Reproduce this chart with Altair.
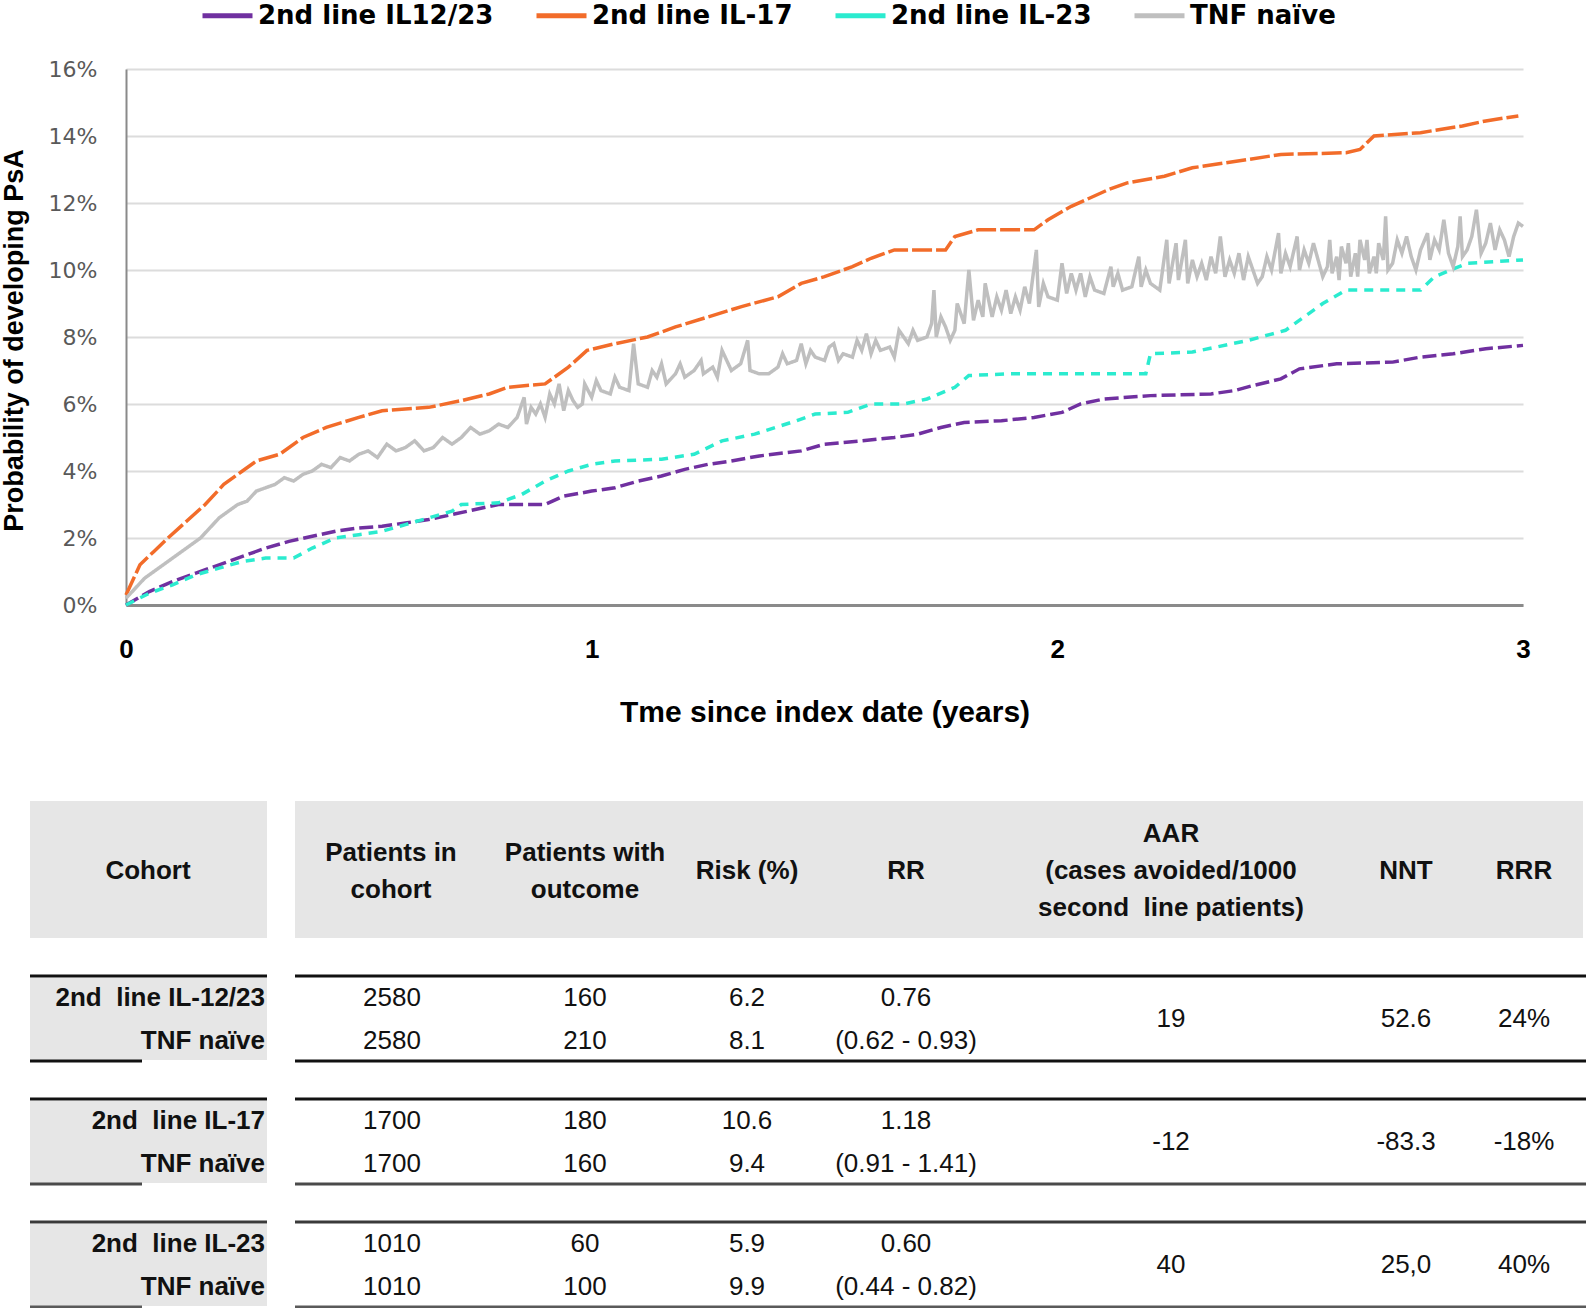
import altair as alt
import pandas as pd

# ---------------- data ----------------
series_names = ["2nd line IL12/23", "2nd line IL-17", "2nd line IL-23", "TNF naïve"]
series_colors = ["#7030A0", "#F26C2A", "#2BEBCF", "#BFBFBF"]
series_dashes = [[14, 5], [20, 4], [9, 7], [1, 0]]
series_widths = [3.5, 3.5, 3.5, 4.0]

il1223_points = [(0.00, 0.0), (0.05, 0.4), (0.10, 0.7), (0.15, 0.95), (0.20, 1.2), (0.25, 1.45),
                 (0.30, 1.7), (0.35, 1.9), (0.40, 2.05), (0.45, 2.2), (0.50, 2.3), (0.55, 2.35),
                 (0.60, 2.45), (0.65, 2.55), (0.70, 2.7), (0.75, 2.85), (0.80, 3.0), (0.90, 3.0),
                 (0.94, 3.25), (1.00, 3.4), (1.05, 3.5), (1.10, 3.7), (1.15, 3.85), (1.20, 4.05),
                 (1.25, 4.2), (1.30, 4.3), (1.36, 4.45), (1.45, 4.6), (1.50, 4.8), (1.58, 4.9),
                 (1.65, 5.0), (1.70, 5.1), (1.75, 5.3), (1.80, 5.45), (1.88, 5.5), (1.95, 5.6),
                 (2.01, 5.75), (2.05, 6.0), (2.10, 6.15), (2.20, 6.25), (2.33, 6.3), (2.38, 6.4),
                 (2.42, 6.55), (2.48, 6.75), (2.52, 7.05), (2.60, 7.2), (2.72, 7.25), (2.78, 7.4),
                 (2.85, 7.5), (2.92, 7.65), (3.00, 7.75)]

il17_points = [(0.00, 0.3), (0.03, 1.2), (0.06, 1.6), (0.09, 2.0), (0.13, 2.5), (0.17, 3.0),
               (0.21, 3.6), (0.25, 4.0), (0.28, 4.3), (0.33, 4.5), (0.38, 5.0), (0.43, 5.3),
               (0.50, 5.6), (0.55, 5.8), (0.65, 5.9), (0.72, 6.1), (0.78, 6.3), (0.82, 6.5),
               (0.90, 6.6), (0.95, 7.1), (0.99, 7.6), (1.05, 7.8), (1.12, 8.0), (1.18, 8.3),
               (1.25, 8.6), (1.32, 8.9), (1.40, 9.2), (1.45, 9.6), (1.50, 9.8), (1.56, 10.1),
               (1.60, 10.35), (1.65, 10.6), (1.76, 10.6), (1.78, 11.0), (1.83, 11.2), (1.95, 11.2),
               (1.98, 11.5), (2.03, 11.9), (2.11, 12.4), (2.15, 12.6), (2.23, 12.8), (2.29, 13.05),
               (2.41, 13.3), (2.48, 13.45), (2.62, 13.5), (2.65, 13.6), (2.68, 14.0), (2.78, 14.1),
               (2.87, 14.3), (2.92, 14.45), (2.99, 14.6)]

il23_points = [(0.00, 0.0), (0.05, 0.35), (0.10, 0.6), (0.15, 0.9), (0.20, 1.1), (0.25, 1.3),
               (0.30, 1.4), (0.36, 1.4), (0.40, 1.7), (0.45, 2.0), (0.50, 2.1), (0.55, 2.2),
               (0.60, 2.4), (0.65, 2.6), (0.70, 2.8), (0.72, 3.0), (0.80, 3.05), (0.85, 3.3),
               (0.90, 3.7), (0.95, 4.0), (1.00, 4.2), (1.05, 4.3), (1.15, 4.35), (1.22, 4.5),
               (1.28, 4.9), (1.35, 5.1), (1.44, 5.5), (1.48, 5.7), (1.55, 5.75), (1.60, 6.0),
               (1.67, 6.0), (1.72, 6.15), (1.78, 6.5), (1.81, 6.85), (1.90, 6.9), (2.19, 6.9),
               (2.20, 7.5), (2.29, 7.55), (2.41, 7.9), (2.49, 8.2), (2.53, 8.6), (2.57, 9.0),
               (2.62, 9.4), (2.78, 9.4), (2.81, 9.8), (2.88, 10.2), (3.00, 10.3)]

tnf_points = [(0.00, 0.2), (0.02, 0.5), (0.04, 0.8), (0.06, 1.0), (0.08, 1.2), (0.10, 1.4), (0.12, 1.6),
              (0.14, 1.8), (0.16, 2.0), (0.18, 2.3), (0.20, 2.6), (0.22, 2.8), (0.24, 3.0), (0.26, 3.1),
              (0.28, 3.4), (0.30, 3.5), (0.32, 3.6), (0.34, 3.8), (0.36, 3.7), (0.38, 3.9), (0.40, 4.0),
              (0.42, 4.2), (0.44, 4.1), (0.46, 4.4), (0.48, 4.3), (0.50, 4.5), (0.52, 4.6), (0.54, 4.4),
              (0.56, 4.8), (0.58, 4.6), (0.60, 4.7), (0.62, 4.9), (0.64, 4.6), (0.66, 4.7), (0.68, 5.0),
              (0.70, 4.8), (0.72, 5.0), (0.74, 5.3), (0.76, 5.1), (0.78, 5.2), (0.80, 5.4), (0.82, 5.3),
              (0.84, 5.6), (0.855, 6.2), (0.86, 5.4), (0.87, 5.9), (0.88, 5.7), (0.89, 6.0), (0.90, 5.6),
              (0.91, 6.3), (0.92, 6.0), (0.93, 6.6), (0.94, 5.8), (0.95, 6.4), (0.96, 6.1), (0.97, 5.9),
              (0.98, 6.0), (0.985, 6.6), (1.00, 6.2), (1.01, 6.7), (1.02, 6.4), (1.04, 6.3), (1.05, 6.8),
              (1.06, 6.5), (1.08, 6.4), (1.09, 7.8), (1.10, 6.6), (1.12, 6.5), (1.13, 7.0), (1.14, 6.8),
              (1.15, 7.2), (1.16, 6.6), (1.18, 6.9), (1.19, 7.2), (1.20, 6.8), (1.22, 7.0), (1.235, 7.3),
              (1.24, 6.9), (1.26, 7.1), (1.27, 6.8), (1.28, 7.6), (1.30, 7.0), (1.32, 7.2), (1.335, 7.9),
              (1.34, 7.0), (1.36, 6.9), (1.38, 6.9), (1.40, 7.1), (1.41, 7.5), (1.42, 7.2), (1.44, 7.3),
              (1.45, 7.8), (1.46, 7.2), (1.47, 7.6), (1.48, 7.4), (1.50, 7.3), (1.51, 7.7), (1.52, 7.8),
              (1.53, 7.3), (1.54, 7.5), (1.56, 7.4), (1.57, 7.9), (1.58, 7.6), (1.59, 8.1), (1.60, 7.5),
              (1.61, 7.9), (1.62, 7.6), (1.64, 7.7), (1.65, 7.4), (1.66, 8.2), (1.68, 7.8), (1.69, 8.2),
              (1.70, 7.9), (1.72, 8.0), (1.73, 8.4), (1.735, 9.4), (1.74, 8.0), (1.75, 8.6), (1.76, 8.3),
              (1.77, 7.9), (1.78, 8.2), (1.785, 9.0), (1.80, 8.4), (1.81, 10.0), (1.82, 8.5), (1.83, 9.1),
              (1.84, 8.6), (1.845, 9.6), (1.86, 8.6), (1.87, 9.2), (1.88, 8.8), (1.89, 9.4), (1.90, 8.7),
              (1.91, 9.2), (1.92, 8.8), (1.93, 9.5), (1.94, 9.0), (1.955, 10.6), (1.96, 8.9), (1.97, 9.6),
              (1.98, 9.2), (2.00, 9.1), (2.01, 10.2), (2.02, 9.3), (2.03, 9.9), (2.04, 9.4), (2.05, 9.9),
              (2.06, 9.2), (2.07, 9.8), (2.08, 9.4), (2.10, 9.3), (2.115, 10.1), (2.12, 9.5), (2.13, 9.9),
              (2.14, 9.4), (2.16, 9.5), (2.175, 10.4), (2.18, 9.5), (2.19, 10.0), (2.20, 9.6), (2.22, 9.4),
              (2.235, 10.9), (2.24, 9.6), (2.255, 10.8), (2.26, 9.7), (2.275, 10.9), (2.28, 9.6),
              (2.29, 10.3), (2.30, 9.8), (2.31, 10.2), (2.32, 9.7), (2.33, 10.4), (2.34, 9.9),
              (2.35, 11.0), (2.36, 9.8), (2.37, 10.3), (2.38, 9.9), (2.39, 10.5), (2.40, 9.7),
              (2.41, 10.4), (2.42, 10.0), (2.43, 9.6), (2.44, 9.8), (2.45, 10.4), (2.46, 10.0),
              (2.475, 11.1), (2.48, 9.9), (2.49, 10.5), (2.50, 10.1), (2.515, 11.0), (2.52, 10.0),
              (2.53, 10.6), (2.54, 10.2), (2.55, 10.8), (2.56, 10.3), (2.57, 9.8), (2.58, 10.1),
              (2.585, 10.9), (2.59, 9.9), (2.60, 10.4), (2.605, 9.7), (2.61, 10.7), (2.62, 10.2),
              (2.625, 10.8), (2.63, 9.8), (2.64, 10.5), (2.645, 9.8), (2.65, 10.9), (2.66, 10.3),
              (2.665, 10.9), (2.67, 9.9), (2.68, 10.4), (2.685, 9.9), (2.69, 10.8), (2.70, 10.3),
              (2.705, 11.6), (2.71, 10.0), (2.72, 10.2), (2.73, 10.9), (2.74, 10.5), (2.75, 11.0),
              (2.76, 10.4), (2.77, 10.0), (2.78, 10.6), (2.795, 11.1), (2.80, 10.3), (2.81, 10.9),
              (2.82, 10.6), (2.83, 11.5), (2.84, 10.5), (2.85, 10.1), (2.86, 10.7), (2.865, 11.6),
              (2.87, 10.4), (2.88, 10.6), (2.89, 11.0), (2.90, 11.8), (2.91, 10.5), (2.92, 10.8),
              (2.93, 11.4), (2.94, 10.6), (2.95, 11.2), (2.96, 10.9), (2.97, 10.4), (2.98, 11.0),
              (2.99, 11.4), (3.00, 11.3)]

y_ticks = [0, 2, 4, 6, 8, 10, 12, 14, 16]
x_ticks = [0, 1, 2, 3]

# table data (double spaces kept with a no-break space)
header_texts = ["Cohort", "Patients in\ncohort", "Patients with\noutcome", "Risk (%)", "RR",
                "AAR\n(cases avoided/1000\nsecond \u00a0line patients)", "NNT", "RRR"]
cohort_labels = [["2nd \u00a0line IL-12/23", "TNF naïve"],
                 ["2nd \u00a0line IL-17", "TNF naïve"],
                 ["2nd \u00a0line IL-23", "TNF naïve"]]
patients_in_cohort = [["2580", "2580"], ["1700", "1700"], ["1010", "1010"]]
patients_with_outcome = [["160", "210"], ["180", "160"], ["60", "100"]]
risk_pct = [["6.2", "8.1"], ["10.6", "9.4"], ["5.9", "9.9"]]
rr = ["0.76", "1.18", "0.60"]
rr_ci = ["(0.62 - 0.93)", "(0.91 - 1.41)", "(0.44 - 0.82)"]
aar = ["19", "-12", "40"]
nnt = ["52.6", "-83.3", "25,0"]
rrr = ["24%", "-18%", "40%"]

# ---------------- layout (page pixels) ----------------
PL, PT = 126, 69           # plot origin on the page
W, H = 1397, 536
PAGE_W, PAGE_H = 1586, 1308

SANS = "Liberation Sans"
WIDE = "DejaVu Sans"
TFS = 26                   # table font size
HEADER_LH = 37

header_x = [148, 391, 585, 747, 906, 1171, 1406, 1524]
header_center_y = 871
value_cols_x = [392, 585, 747, 906]
merged_cols_x = [1171, 1406, 1524]
cohort_right = 265
group_top = [976, 1099, 1222]
row_off = [22, 65]
mid_off = 43
bottom_off = 85

# ---------------- line chart ----------------
rows = []
for name, pts in zip(series_names, [il1223_points, il17_points, il23_points, tnf_points]):
    for i, (t, v) in enumerate(sorted(pts)):
        rows.append({"series": name, "t": t, "v": v, "order": i})
line_df = pd.DataFrame(rows)

lines = alt.Chart(line_df).mark_line().encode(
    x=alt.X("t:Q", scale=alt.Scale(domain=[0, 3], nice=False, zero=False),
            axis=alt.Axis(values=x_ticks, format="d", title="Tme since index date (years)",
                          labelFont=SANS, labelFontSize=26, labelFontWeight="bold", labelColor="black",
                          labelFlush=False, labelPadding=31, labelBaseline="top",
                          ticks=False, tickSize=0, grid=False,
                          domainColor="#8A8A8A", domainWidth=3,
                          titleFont=SANS, titleFontSize=30, titleFontWeight="bold", titleColor="black",
                          titleY=107, titleBaseline="middle")),
    y=alt.Y("v:Q", scale=alt.Scale(domain=[0, 16], nice=False),
            axis=alt.Axis(values=y_ticks, labelExpr="datum.value + '%'", title="Probability of developing PsA",
                          labelFont=WIDE, labelFontSize=22, labelColor="#595959", labelPadding=29,
                          ticks=False, tickSize=0, grid=True, gridColor="#DCDCDC", gridWidth=2,
                          domainColor="#8A8A8A", domainWidth=2,
                          titleFont=SANS, titleFontSize=27, titleFontWeight="bold", titleColor="black",
                          titleX=-112, titleY=H / 2 + 3, titleAngle=270, titleBaseline="middle",
                          titleAlign="center")),
    color=alt.Color("series:N", scale=alt.Scale(domain=series_names, range=series_colors),
                    legend=alt.Legend(orient="none", legendX=74, legendY=-81, direction="horizontal",
                                      title=None, symbolType="stroke", symbolSize=2500,
                                      symbolStrokeWidth=5, labelFont=WIDE, labelFontSize=26,
                                      labelFontWeight="bold", labelColor="black", columnPadding=32,
                                      labelOffset=3, labelLimit=400, padding=0)),
    strokeDash=alt.StrokeDash("series:N", scale=alt.Scale(domain=series_names, range=series_dashes),
                              legend=None),
    strokeWidth=alt.StrokeWidth("series:N", scale=alt.Scale(domain=series_names, range=series_widths),
                                legend=None),
    order="order:Q",
)

# ---------------- table ----------------
def rx(x):
    return x - PL

def ry(y):
    return y - PT

rect_rows = [
    {"x": rx(30), "x2": rx(267), "y": ry(801), "y2": ry(938)},
    {"x": rx(295), "x2": rx(1583), "y": ry(801), "y2": ry(938)},
]
for gt in group_top:
    rect_rows.append({"x": rx(30), "x2": rx(267), "y": ry(gt + 2), "y2": ry(gt + bottom_off - 1)})
rect_df = pd.DataFrame(rect_rows)

rule_rows = []
rule_colors = [("#111111", "#111111"), ("#111111", "#4A4A4A"), ("#3A3A3A", "#5A5A5A")]
for gt, (ctop, cbot) in zip(group_top, rule_colors):
    rule_rows.append({"x": rx(30), "x2": rx(267), "y": ry(gt), "c": ctop})
    rule_rows.append({"x": rx(295), "x2": rx(PAGE_W), "y": ry(gt), "c": ctop})
    rule_rows.append({"x": rx(30), "x2": rx(142), "y": ry(gt + bottom_off), "c": cbot})
    rule_rows.append({"x": rx(295), "x2": rx(PAGE_W), "y": ry(gt + bottom_off), "c": cbot})
rule_df = pd.DataFrame(rule_rows)

header_rows = []
for hx, txt in zip(header_x, header_texts):
    n = txt.count("\n") + 1
    header_rows.append({"x": rx(hx), "y": ry(header_center_y - (n - 1) / 2 * HEADER_LH), "text": txt})
header_df = pd.DataFrame(header_rows)

cohort_rows = []
value_rows = []
for g, gt in enumerate(group_top):
    for r in range(2):
        yy = ry(gt + row_off[r])
        cohort_rows.append({"x": rx(cohort_right), "y": yy, "text": cohort_labels[g][r]})
        vals = [patients_in_cohort[g][r], patients_with_outcome[g][r], risk_pct[g][r],
                rr[g] if r == 0 else rr_ci[g]]
        for cx, val in zip(value_cols_x, vals):
            value_rows.append({"x": rx(cx), "y": yy, "text": val})
    ym = ry(gt + mid_off)
    for cx, val in zip(merged_cols_x, [aar[g], nnt[g], rrr[g]]):
        value_rows.append({"x": rx(cx), "y": ym, "text": val})
cohort_df = pd.DataFrame(cohort_rows)
value_df = pd.DataFrame(value_rows)

X = lambda f: alt.X(f, scale=None, axis=None)
Y = lambda f: alt.Y(f, scale=None, axis=None)

rects = alt.Chart(rect_df).mark_rect(color="#E6E6E6").encode(
    x=X("x:Q"), x2="x2:Q", y=Y("y:Q"), y2="y2:Q")
rules = alt.Chart(rule_df).mark_rule(strokeWidth=3).encode(
    x=X("x:Q"), x2="x2:Q", y=Y("y:Q"), color=alt.Color("c:N", scale=None, legend=None))
headers = alt.Chart(header_df).mark_text(font=SANS, fontSize=TFS, fontWeight="bold", color="#111111",
                                         align="center", baseline="middle", lineBreak="\n",
                                         lineHeight=HEADER_LH).encode(
    x=X("x:Q"), y=Y("y:Q"), text="text:N")
cohorts = alt.Chart(cohort_df).mark_text(font=SANS, fontSize=TFS, fontWeight="bold", color="#111111",
                                         align="right", baseline="middle").encode(
    x=X("x:Q"), y=Y("y:Q"), text="text:N")
values = alt.Chart(value_df).mark_text(font=SANS, fontSize=TFS, color="#111111",
                                       align="center", baseline="middle").encode(
    x=X("x:Q"), y=Y("y:Q"), text="text:N")

chart = alt.layer(lines, rects, rules, headers, cohorts, values).resolve_scale(
    x="independent", y="independent", color="independent"
).properties(
    width=W, height=H,
    autosize=alt.AutoSizeParams(type="none"),
    padding={"left": PL, "top": PT, "right": PAGE_W - PL - W, "bottom": PAGE_H - PT - H},
    background="white",
).configure_view(stroke=None)

chart.save("out.html", embed_options={"renderer": "svg", "actions": False})
